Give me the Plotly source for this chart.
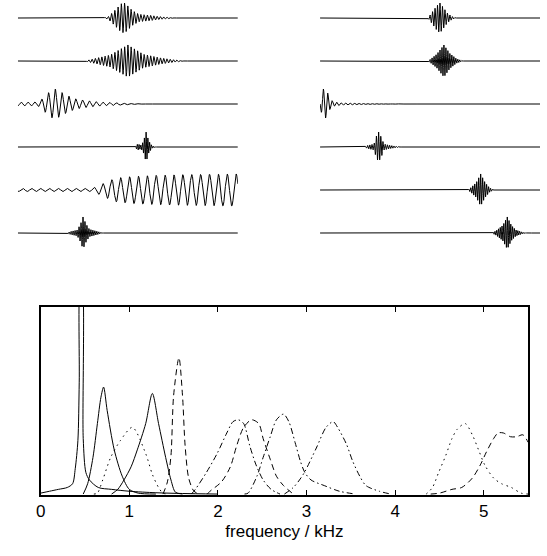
import numpy as np
import plotly.graph_objects as go

# ---------------- Spectra (bottom panel) ----------------
# frequency in kHz, magnitude relative to panel height
spec_freq = [
    [0.0, 0.1, 0.2, 0.3, 0.36, 0.39, 0.42, 0.435, 0.45, 0.465, 0.48, 0.51, 0.55, 0.65, 0.8, 1.0, 1.3, 1.6, 2.0],
    [0.48, 0.53, 0.59, 0.64, 0.68, 0.71, 0.75, 0.83, 0.92, 1.0, 1.1, 1.3],
    [0.80, 0.87, 0.94, 1.02, 1.09, 1.185, 1.26, 1.33, 1.41, 1.47, 1.52, 1.6],
    [0.60, 0.64, 0.70, 0.79, 0.90, 1.035, 1.185, 1.26, 1.33, 1.38, 1.45],
    [1.38, 1.43, 1.47, 1.50, 1.56, 1.60, 1.63, 1.67, 1.73, 1.80],
    [1.70, 1.745, 1.87, 1.99, 2.10, 2.17, 2.23, 2.29, 2.36, 2.43, 2.51, 2.60, 2.70],
    [1.88, 1.91, 2.04, 2.14, 2.21, 2.29, 2.38, 2.46, 2.51, 2.59, 2.66, 2.74, 2.85],
    [2.30, 2.34, 2.44, 2.51, 2.59, 2.66, 2.74, 2.80, 2.87, 2.93, 2.98, 3.05, 3.20, 3.37, 3.55],
    [2.75, 2.85, 2.92, 2.98, 3.11, 3.22, 3.30, 3.35, 3.45, 3.52, 3.60, 3.67, 3.82, 3.95],
    [4.35, 4.42, 4.49, 4.57, 4.64, 4.70, 4.79, 4.87, 4.94, 5.01, 5.11, 5.20, 5.31, 5.42, 5.50],
    [4.40, 4.50, 4.64, 4.75, 4.87, 4.96, 5.03, 5.11, 5.16, 5.22, 5.30, 5.37, 5.44, 5.50],
]
spec_mag = [
    [0.01, 0.02, 0.03, 0.04, 0.06, 0.14, 0.29, 0.6, 1.15, 1.15, 0.3, 0.12, 0.08, 0.04, 0.03, 0.02, 0.012, 0.008, 0.005],
    [0.005, 0.06, 0.20, 0.38, 0.52, 0.574, 0.45, 0.24, 0.10, 0.03, 0.01, 0.005],
    [0.005, 0.03, 0.08, 0.15, 0.24, 0.38, 0.54, 0.38, 0.20, 0.08, 0.015, 0.005],
    [0.005, 0.01, 0.08, 0.20, 0.29, 0.36, 0.22, 0.11, 0.04, 0.01, 0.005],
    [0.005, 0.07, 0.21, 0.53, 0.73, 0.53, 0.26, 0.09, 0.02, 0.005],
    [0.005, 0.03, 0.12, 0.22, 0.33, 0.39, 0.40, 0.38, 0.26, 0.16, 0.08, 0.03, 0.005],
    [0.005, 0.02, 0.07, 0.15, 0.26, 0.36, 0.40, 0.38, 0.30, 0.19, 0.10, 0.05, 0.005],
    [0.005, 0.01, 0.10, 0.20, 0.31, 0.40, 0.43, 0.39, 0.28, 0.18, 0.12, 0.08, 0.05, 0.02, 0.005],
    [0.005, 0.04, 0.08, 0.124, 0.25, 0.36, 0.39, 0.36, 0.27, 0.18, 0.10, 0.05, 0.02, 0.005],
    [0.005, 0.04, 0.12, 0.21, 0.30, 0.35, 0.38, 0.32, 0.24, 0.16, 0.09, 0.06, 0.04, 0.01, 0.005],
    [0.005, 0.01, 0.03, 0.04, 0.09, 0.16, 0.23, 0.30, 0.33, 0.33, 0.31, 0.31, 0.32, 0.28],
]
spec_style = ["solid", "solid", "solid", "dotted", "dashed", "dashdot", "dashed", "dashdot",
              "dashdotdot", "dotted", "dashed"]

freq_ticks = [0, 1, 2, 3, 4, 5]

# ---------------- Waveforms (top panels) ----------------
# envelope knots: time (fraction of trace length) and amplitude (relative), carrier period
left_env_t = [
    [0.38, 0.41, 0.44, 0.47, 0.485, 0.50, 0.52, 0.55, 0.60, 0.64, 0.69, 0.72],
    [0.30, 0.33, 0.42, 0.50, 0.57, 0.65, 0.71, 0.76],
    [0.0, 0.08, 0.10, 0.12, 0.15, 0.17, 0.19, 0.22, 0.26, 0.30, 0.36, 0.42, 0.50, 0.55, 0.60],
    [0.53, 0.545, 0.56, 0.57, 0.583, 0.595, 0.61, 0.63],
    [0.0, 0.33, 0.36, 0.39, 0.42, 0.45, 0.52, 0.62, 0.75, 1.0],
    [0.22, 0.24, 0.27, 0.285, 0.296, 0.31, 0.325, 0.35, 0.375, 0.39],
]
left_env_a = [
    [0.0, 0.08, 0.5, 0.95, 1.0, 0.8, 0.5, 0.25, 0.18, 0.1, 0.04, 0.0],
    [0.0, 0.1, 0.4, 1.07, 0.45, 0.2, 0.08, 0.0],
    [0.13, 0.13, 0.2, 0.5, 0.9, 1.0, 0.85, 0.6, 0.35, 0.25, 0.15, 0.1, 0.05, 0.02, 0.0],
    [0.0, 0.2, 0.12, 0.35, 1.0, 0.4, 0.08, 0.0],
    [0.1, 0.1, 0.25, 0.45, 0.65, 0.8, 0.9, 0.97, 1.02, 1.07],
    [0.0, 0.1, 0.2, 0.6, 1.07, 0.6, 0.25, 0.15, 0.05, 0.0],
]
left_period = [0.0148, 0.0148, 0.031, 0.008, 0.0404, 0.009]
left_peak = [0.485, 0.50, 0.17, 0.583, 0.75, 0.296]

right_env_t = [
    [0.49, 0.505, 0.53, 0.545, 0.56, 0.58, 0.60, 0.62],
    [0.49, 0.50, 0.53, 0.563, 0.59, 0.62, 0.65],
    [0.0, 0.015, 0.03, 0.045, 0.06, 0.10, 0.20, 0.30, 0.40],
    [0.20, 0.215, 0.245, 0.255, 0.266, 0.28, 0.29, 0.32, 0.37],
    [0.67, 0.685, 0.71, 0.73, 0.75, 0.77, 0.79],
    [0.78, 0.80, 0.83, 0.851, 0.87, 0.89, 0.92, 0.94],
]
right_env_a = [
    [0.0, 0.3, 0.8, 1.0, 0.7, 0.3, 0.1, 0.0],
    [0.0, 0.1, 0.45, 1.07, 0.5, 0.15, 0.0],
    [0.3, 1.0, 0.9, 0.35, 0.15, 0.08, 0.04, 0.02, 0.0],
    [0.0, 0.1, 0.2, 0.7, 1.0, 0.6, 0.2, 0.1, 0.0],
    [0.0, 0.15, 0.5, 1.07, 0.5, 0.15, 0.0],
    [0.0, 0.15, 0.5, 1.07, 0.5, 0.2, 0.05, 0.0],
]
right_period = [0.0113, 0.009, 0.02, 0.01, 0.009, 0.008]
right_peak = [0.545, 0.563, 0.015, 0.266, 0.73, 0.851]

# ---------------- Layout geometry (pixels) ----------------
W, H = 547, 556
row_px = [18, 62, 104, 147, 189, 233]
row_gap = 43.0
amp_px = 15.0
top_area_px = 251

dash_map = {
    "solid": "solid",
    "dotted": "1.5px,4px",
    "dashed": "6px,4px",
    "dashdot": "6px,3px,1.5px,3px",
    "dashdotdot": "6px,3px,1.5px,3px,1.5px,3px",
}

fig = go.Figure()

t = np.linspace(0, 1, 5000)
amp_unit = amp_px / row_gap


def add_column(env_t, env_a, period, peak, xa, ya):
    for i in range(6):
        env = np.interp(t, env_t[i], env_a[i], left=0.0, right=0.0)
        y = -i + amp_unit * env * np.cos(2 * np.pi * (t - peak[i]) / period[i])
        fig.add_trace(go.Scatter(x=t, y=y, mode="lines", xaxis=xa, yaxis=ya,
                                 line=dict(color="black", width=1), hoverinfo="skip",
                                 showlegend=False))


add_column(left_env_t, left_env_a, left_period, left_peak, "x", "y")
add_column(right_env_t, right_env_a, right_period, right_peak, "x2", "y2")

for f, a, s in zip(spec_freq, spec_mag, spec_style):
    fig.add_trace(go.Scatter(x=f, y=a, mode="lines", xaxis="x3", yaxis="y3",
                             line=dict(color="black", width=1, dash=dash_map[s],
                                       shape="spline", smoothing=0.8),
                             showlegend=False, hoverinfo="skip"))

y_top_val = row_px[0] / row_gap
y_bot_val = -(top_area_px - row_px[0]) / row_gap
wave_dom_y = [1 - top_area_px / H, 1.0]

hidden = dict(visible=False, showgrid=False, zeroline=False)

fig.update_layout(
    width=W, height=H,
    margin=dict(l=0, r=0, t=0, b=0),
    paper_bgcolor="white", plot_bgcolor="white",
    font=dict(family="Liberation Sans, Arial, sans-serif", color="black", size=17),
    xaxis=dict(domain=[13 / W, 235 / W], range=[0, 1], **hidden),
    yaxis=dict(domain=wave_dom_y, range=[y_bot_val, y_top_val], **hidden),
    xaxis2=dict(domain=[318 / W, 540 / W], range=[0, 1], **hidden),
    yaxis2=dict(domain=wave_dom_y, range=[y_bot_val, y_top_val], **hidden),
    xaxis3=dict(domain=[36 / W, 528 / W], range=[0, 5.5], tickvals=freq_ticks,
                ticks="inside", ticklen=5, tickcolor="black", showline=True,
                linecolor="black", linewidth=2, mirror="ticks", showgrid=False,
                zeroline=False, anchor="y3",
                title=dict(text="frequency / kHz", font=dict(size=17), standoff=5),
                tickfont=dict(size=17)),
    yaxis3=dict(domain=[1 - 495 / H, 1 - 307 / H], range=[0, 1], showline=True,
                linecolor="black", linewidth=2, mirror=True, ticks="",
                showticklabels=False, showgrid=False, zeroline=False, anchor="x3"),
)

fig.write_html("out.html")
